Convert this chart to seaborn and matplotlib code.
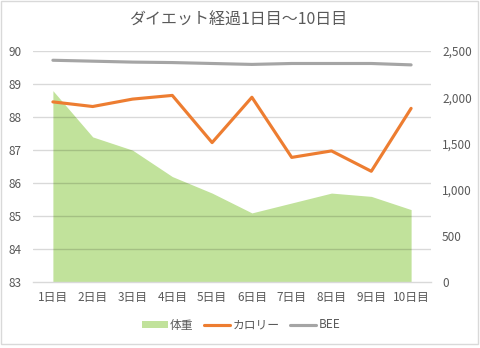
import numpy as np
import pandas as pd
import matplotlib
matplotlib.use("Agg")
import matplotlib.pyplot as plt
from matplotlib.patches import Patch, Rectangle
from matplotlib.lines import Line2D
import seaborn as sns

days = ["1日目", "2日目", "3日目", "4日目", "5日目", "6日目", "7日目", "8日目", "9日目", "10日目"]
weight = [88.8, 87.4, 87.0, 86.2, 85.7, 85.1, 85.4, 85.7, 85.6, 85.2]
calorie = [1950, 1900, 1980, 2020, 1510, 2000, 1350, 1420, 1200, 1880]
bee = [2400, 2390, 2380, 2375, 2365, 2355, 2365, 2365, 2365, 2350]
left_ticks = [83, 84, 85, 86, 87, 88, 89, 90]
right_ticks = [0, 500, 1000, 1500, 2000, 2500]
title = "ダイエット経過1日目～10日目"

sns.set_theme(style="white")
plt.rcParams["font.family"] = ["Noto Sans CJK JP", "DejaVu Sans"]

GREEN = "#C1E29B"
ORANGE = "#ED7D31"
GRAY = "#A5A5A5"
TXT = "#595959"
GRID = "#D9D9D9"

pos = np.arange(len(days))
df = pd.DataFrame({"pos": pos, "day": days, "weight": weight,
                   "calorie": calorie, "bee": bee})

fig = plt.figure(figsize=(4.8, 3.48), dpi=100)
fig.patch.set_facecolor("white")
ax = fig.add_axes([33/480, 1-282.3/348, (431-33)/480, (282.3-51)/348])

ax.fill_between(df["pos"], df["weight"], 83, color=GREEN, linewidth=0, zorder=1)
ax.set_ylim(83, 90)
ax.set_xlim(-0.5, len(days) - 0.5)
ax.set_yticks(left_ticks)
ax.set_xticks(pos)
ax.set_xticklabels(days)
for y in left_ticks[1:]:
    ax.axhline(y, color="black", alpha=0.15, linewidth=1.0, zorder=2)
for s in ["top", "right", "left"]:
    ax.spines[s].set_visible(False)
ax.spines["bottom"].set_color(GRID)
ax.spines["bottom"].set_linewidth(1.0)
ax.spines["bottom"].set_zorder(3)
ax.tick_params(axis="y", length=0, pad=8, labelsize=8.5, labelcolor=TXT)
ax.tick_params(axis="x", length=0, pad=6, labelsize=8.5, labelcolor=TXT)
ax.set_xlabel("")
ax.set_ylabel("")

ax2 = ax.twinx()
sns.lineplot(data=df, x="pos", y="bee", ax=ax2, color=GRAY, linewidth=2.25,
             legend=False)
sns.lineplot(data=df, x="pos", y="calorie", ax=ax2, color=ORANGE, linewidth=2.25,
             legend=False)
ax2.set_ylim(0, 2500)
ax2.set_yticks(right_ticks)
ax2.set_yticklabels([f"{v:,}" for v in right_ticks])
ax2.set_xlim(-0.5, len(days) - 0.5)
for s in ["top", "right", "left", "bottom"]:
    ax2.spines[s].set_visible(False)
ax2.tick_params(axis="y", length=0, pad=8, labelsize=8.5, labelcolor=TXT)
ax2.set_xlabel("")
ax2.set_ylabel("")
ax2.grid(False)

fig.text(238/480, 1-20/348, title, ha="center", va="center", fontsize=11.5, color=TXT)

handles = [Patch(facecolor=GREEN, edgecolor="none", label="体重"),
           Line2D([0], [0], color=ORANGE, linewidth=2.25, label="カロリー"),
           Line2D([0], [0], color=GRAY, linewidth=2.25, label="BEE")]
leg = fig.legend(handles=handles, loc="center", bbox_to_anchor=(241/480, 1-325/348),
                 ncol=3, frameon=False, fontsize=8.5, handlelength=2.2,
                 handleheight=0.5, columnspacing=0.9, handletextpad=0.2)
for t in leg.get_texts():
    t.set_color(TXT)

fig.add_artist(Rectangle((1/480, 4/348), 477/480, 343/348, transform=fig.transFigure,
                         fill=False, edgecolor="#D9D9D9", linewidth=1.0))

fig.savefig("out.png", dpi=100, facecolor="white")
